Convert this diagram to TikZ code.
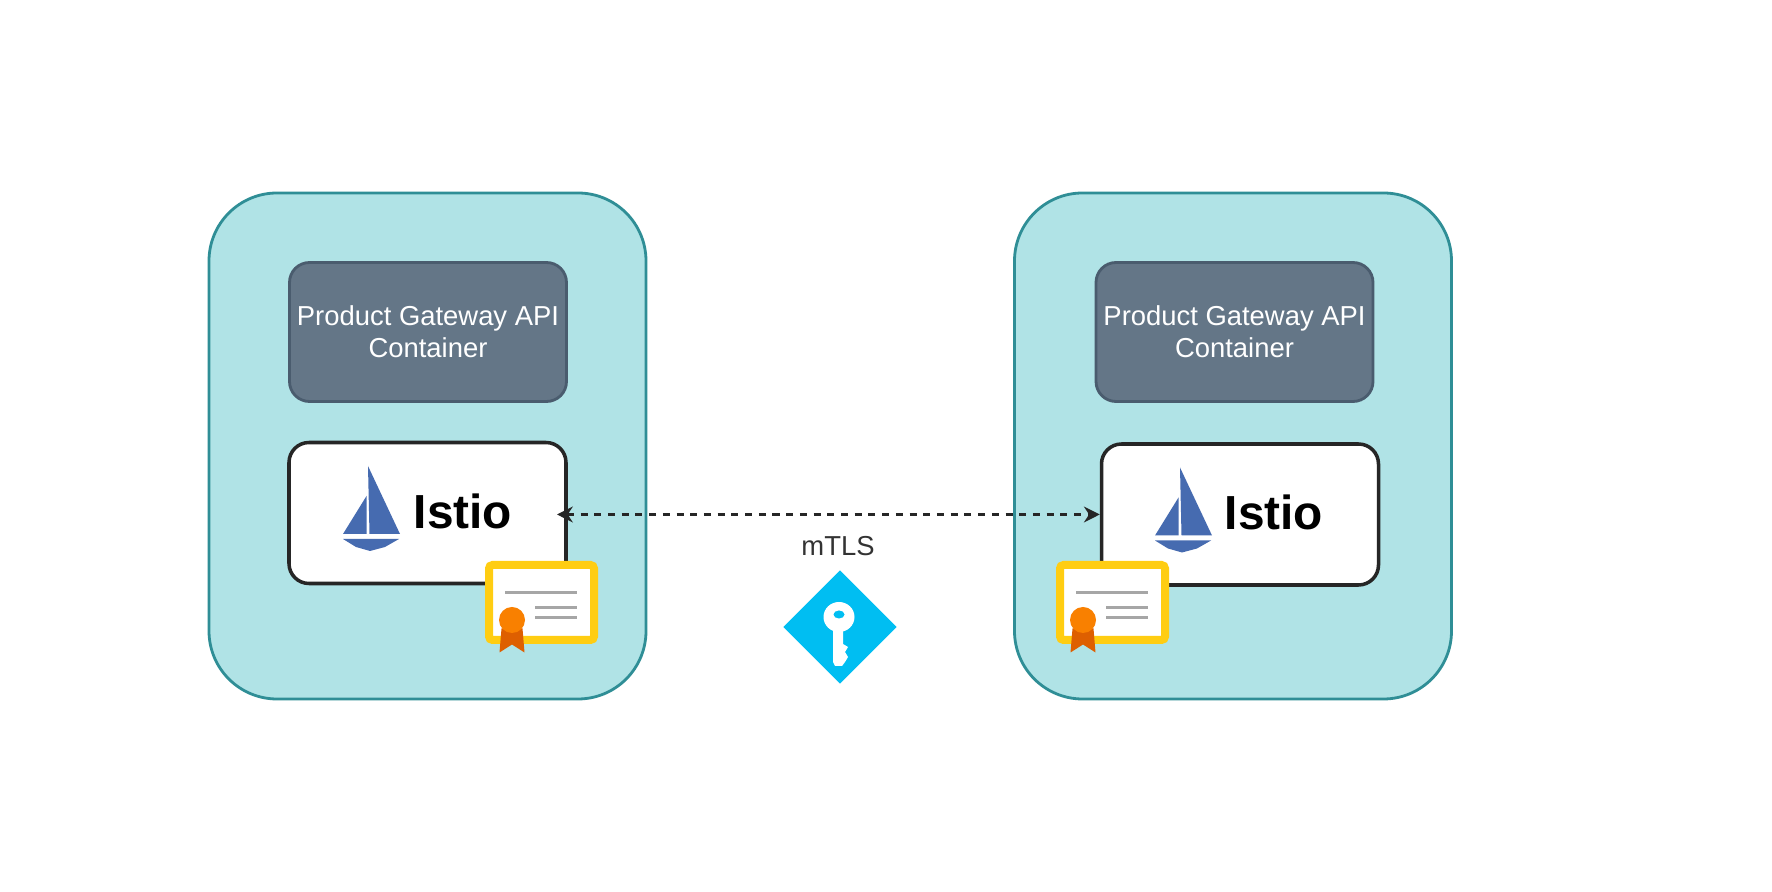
\documentclass[tikz,border=0pt]{standalone}
\usepackage{fontspec}
\setmainfont{Liberation Sans}
\usetikzlibrary{shapes.geometric, arrows.meta, positioning}

\definecolor{podfill}{HTML}{B0E3E6}
\definecolor{podline}{HTML}{2F8E96}
\definecolor{gatefill}{HTML}{647687}
\definecolor{gateline}{HTML}{4A5C6E}
\definecolor{boatblue}{HTML}{466BB0}
\definecolor{certgold}{HTML}{FFCD12}
\definecolor{certgray}{HTML}{A6A6A6}
\definecolor{rosette}{HTML}{F98000}
\definecolor{ribbon}{HTML}{DE5F00}
\definecolor{keyblue}{HTML}{00BEF2}

\tikzset{
    podbox/.style={draw=podline, fill=podfill, line width=0.8pt, rounded corners=0.68cm,
        minimum width=4.37cm, minimum height=5.06cm},
    gatebox/.style={draw=gateline, fill=gatefill, line width=0.8pt, rounded corners=0.2cm,
        minimum width=2.77cm, minimum height=1.39cm, text=white, align=center,
        inner sep=0pt, font=\fontsize{7.8}{9.2}\selectfont},
    istiobox/.style={draw=black!85, fill=white, line width=1pt, rounded corners=0.2cm,
        minimum width=2.77cm, minimum height=1.41cm},
    istiotext/.style={inner sep=0pt, font=\fontsize{13.6}{15}\selectfont\bfseries},
    keybox/.style={shape=diamond, fill=keyblue, inner sep=0pt,
        minimum width=1.14cm, minimum height=1.14cm},
    tlsarrow/.style={{Stealth[length=4.5pt,width=4.5pt]}-{Stealth[length=4.5pt,width=4.5pt]},
        line width=0.65pt, black!85, dash pattern=on 2pt off 1.9pt},
    sailboat/.pic={
        \fill[boatblue] (0,0.02) -- (0.32,-0.66) -- (0.015,-0.66) -- cycle;
        \fill[boatblue] (-0.015,-0.28) -- (-0.25,-0.66) -- (-0.015,-0.66) -- cycle;
        \fill[boatblue] (-0.25,-0.71) -- (0.31,-0.71) -- (0.17,-0.79) -- (0.02,-0.83) -- (-0.12,-0.79) -- cycle;
    },
    certificate/.pic={
        \draw[certgold, fill=white, line width=0.08cm, rounded corners=1pt]
            (-0.525,-0.375) rectangle (0.525,0.375);
        \draw[certgray, line width=1.1pt] (-0.365,0.10) -- (0.355,0.10);
        \draw[certgray, line width=1.1pt] (-0.065,-0.05) -- (0.355,-0.05);
        \draw[certgray, line width=1.1pt] (-0.065,-0.15) -- (0.355,-0.15);
        % Ribbon and rosette
        \fill[ribbon] (-0.40,-0.26) -- (-0.19,-0.26) -- (-0.17,-0.50) -- (-0.295,-0.42) -- (-0.42,-0.50) -- cycle;
        \fill[rosette] (-0.295,-0.175) circle (0.13);
    },
    keyglyph/.pic={
        \fill[white] (-0.07,-0.03) -- (0.03,-0.03) -- (0.03,-0.17) -- (0.08,-0.20) -- (0.05,-0.25)
            -- (0.08,-0.30) -- (0.05,-0.35) -- (0.02,-0.39) -- (-0.05,-0.39) -- (-0.07,-0.35) -- cycle;
        \fill[white] (-0.01,0.10) ellipse (0.155 and 0.15);
        \fill[keyblue] (-0.01,0.125) ellipse (0.055 and 0.04);
    },
}

\begin{document}
\begin{tikzpicture}
    \useasboundingbox (0,0) rectangle (17.72,8.92);
    \fill[white] (0,0) rectangle (17.72,8.92);

    % Left pod
    \node[podbox] (podA) at (4.275,4.46) {};
    \node[gatebox] (gatewayA) at (4.28,5.60) {Product Gateway API\\Container};
    \node[istiobox] (istioA) at (4.275,3.79) {};
    \node[istiotext] (labelA) at (4.63,3.81) {Istio};
    \pic at (3.68,4.24) {sailboat};

    % Right pod
    \node[podbox] (podB) at (12.33,4.46) {};
    \node[gatebox] (gatewayB) at (12.345,5.60) {Product Gateway API\\Container};
    \node[istiobox] (istioB) at (12.40,3.775) {};
    \node[istiotext] (labelB) at (12.74,3.795) {Istio};
    \pic at (11.80,4.225) {sailboat};

    % mTLS link
    \coordinate (linkA) at (5.57,3.775);
    \draw[tlsarrow] (linkA) -- (istioB.west);
    \node[text=black!80, font=\fontsize{7.8}{9}\selectfont] (tlsLabel) at (8.38,3.46) {mTLS};
    \node[keybox] (tlsKey) at (8.40,2.65) {};
    \pic at (8.40,2.65) {keyglyph};

    % Certificates
    \pic at (5.415,2.895) {certificate};
    \pic at (11.125,2.895) {certificate};
\end{tikzpicture}
\end{document}
